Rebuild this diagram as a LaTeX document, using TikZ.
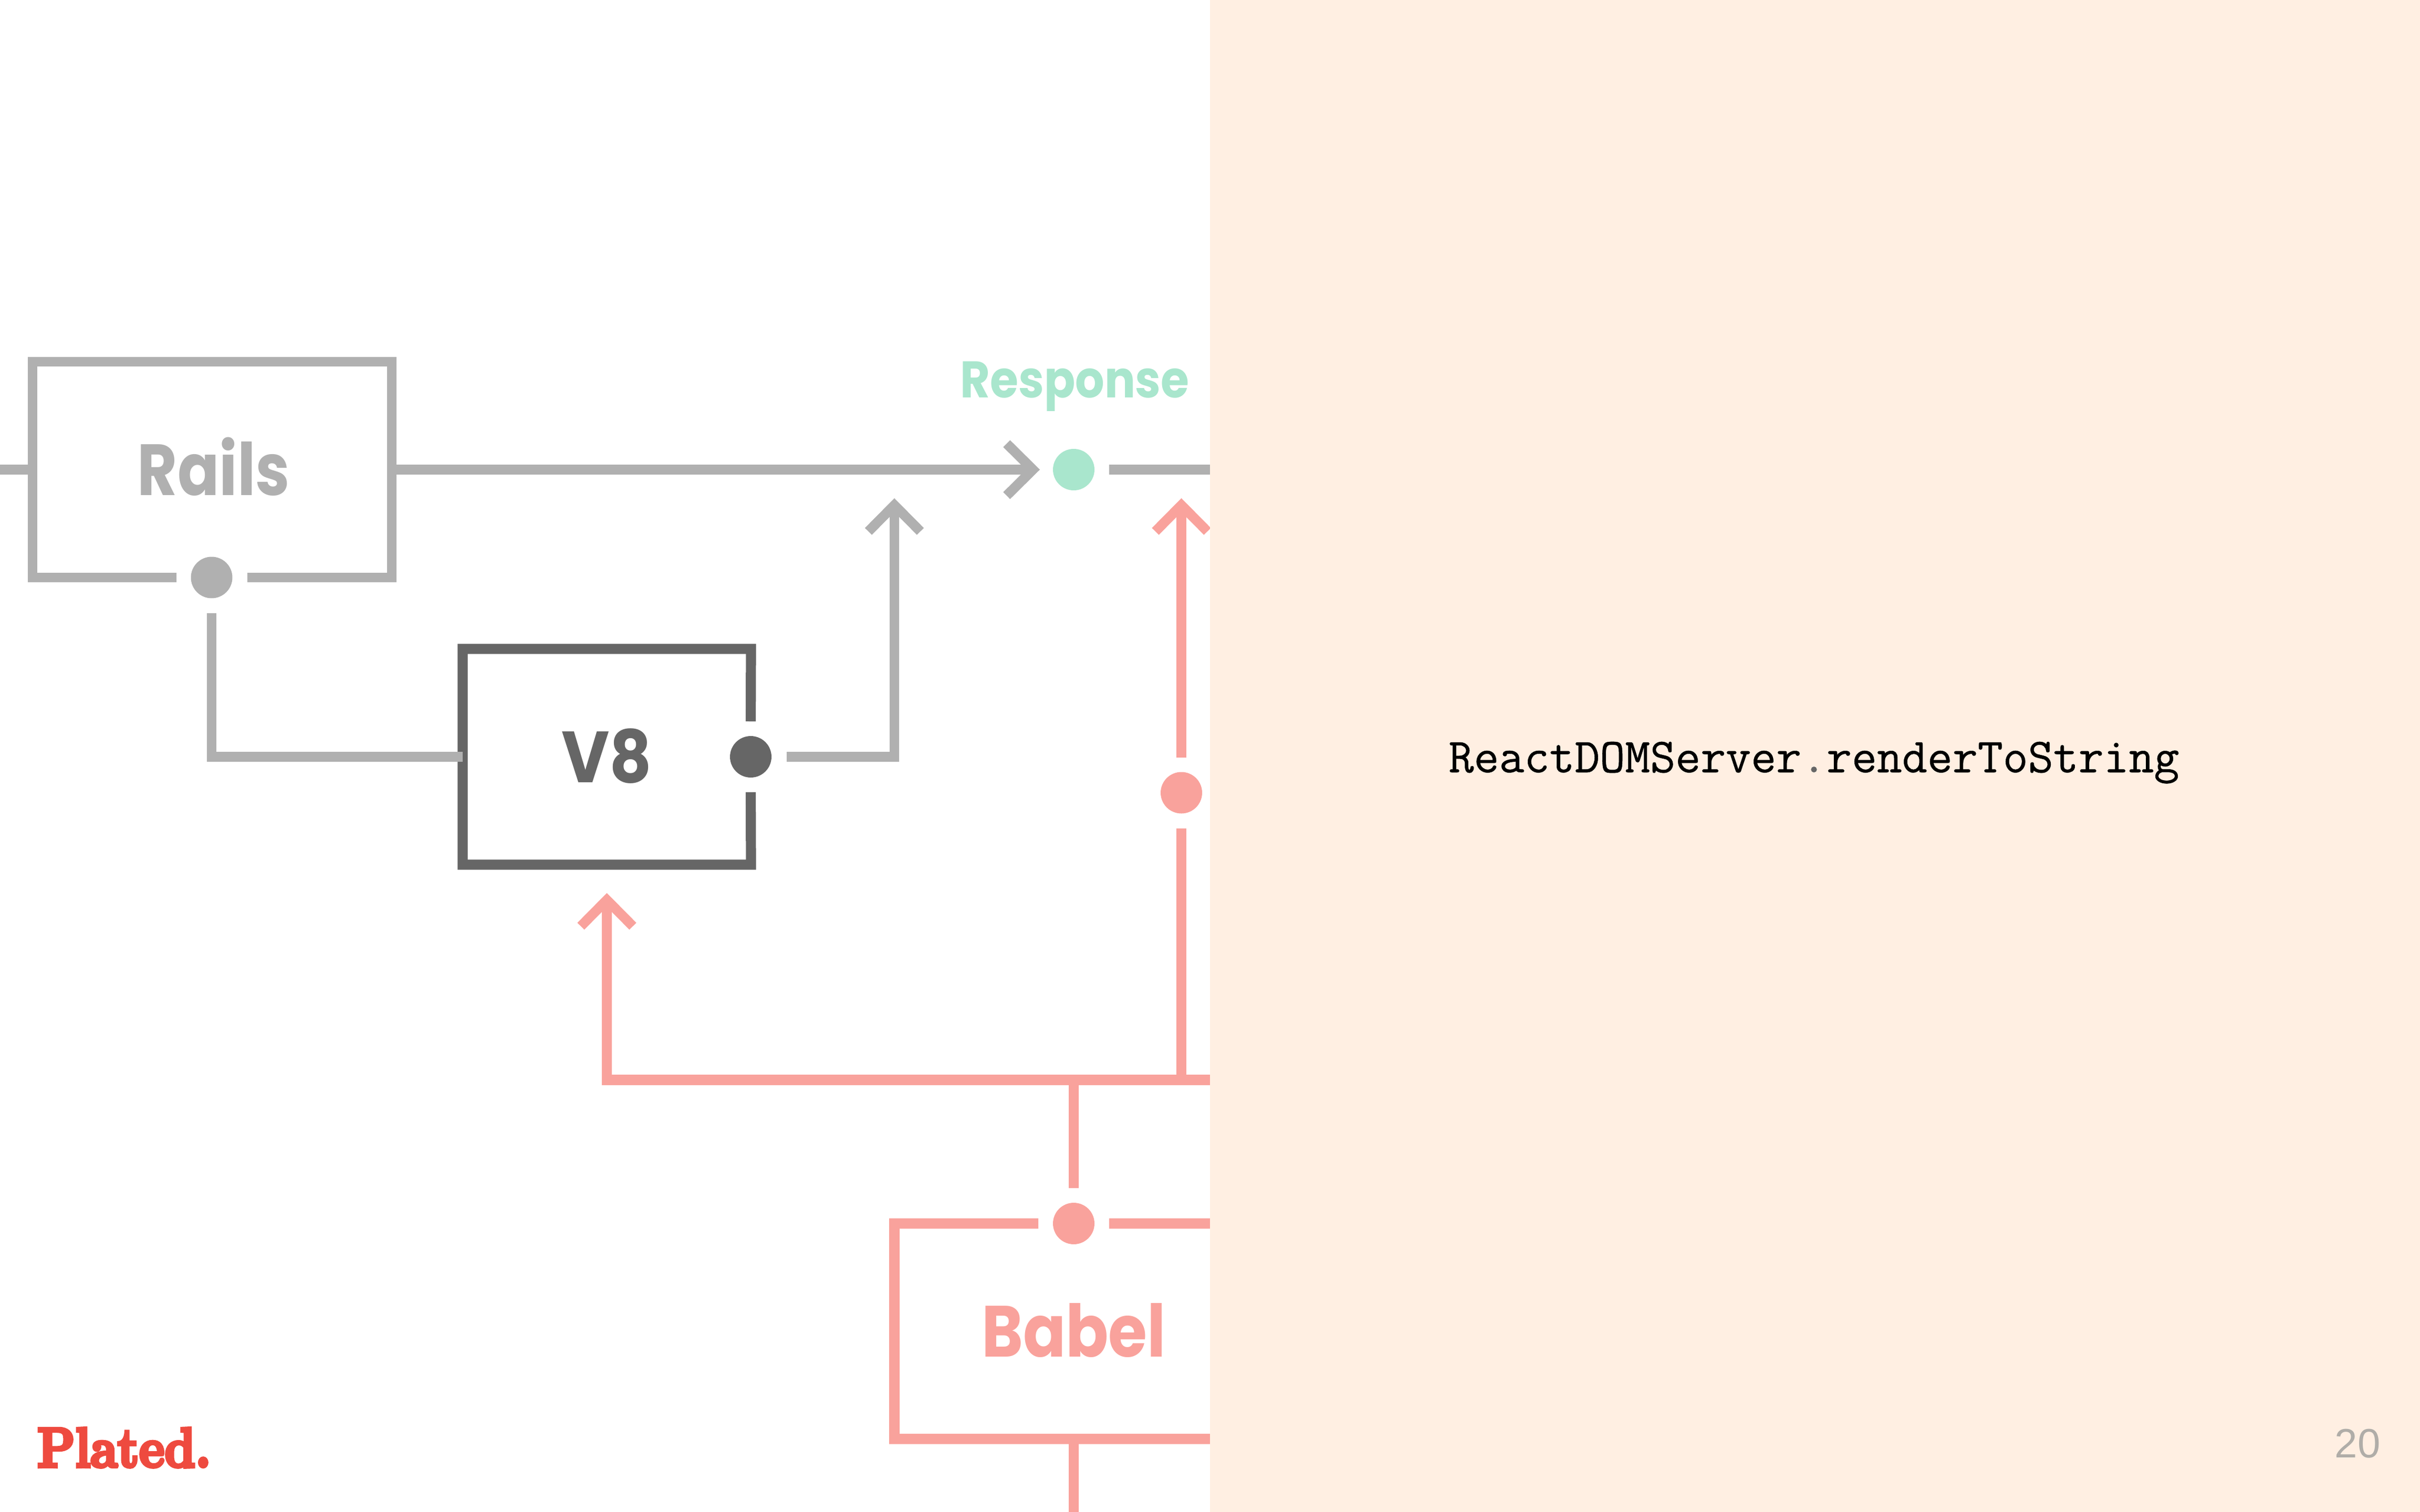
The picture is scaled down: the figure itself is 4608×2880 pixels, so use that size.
\documentclass[tikz,border=0pt]{standalone}
\usepackage{fontspec}
\usepackage{graphicx}
\usetikzlibrary{arrows.meta,calc}
\setmainfont{Poppins}
\newfontfamily\labelfont{Poppins}[UprightFont=* Bold]
\newfontfamily\codefont[FakeBold=0.6]{Latin Modern Mono}
\newfontfamily\logofont[FakeBold=6]{lmroman10-bold.otf}
\newfontfamily\numfont{Liberation Sans}
\newcommand\fitw[2]{\resizebox{#1}{\height}{#2}}
\definecolor{railgrey}{HTML}{B0B0B0}
\definecolor{darkgrey}{HTML}{666666}
\definecolor{pinkline}{HTML}{F9A29C}
\definecolor{mint}{HTML}{A9E6CD}
\definecolor{panelbg}{HTML}{FFEFE2}
\definecolor{platedred}{HTML}{EE4A3F}
\definecolor{numgrey}{HTML}{B0ADA8}
\tikzset{
  x=0.25pt,y=-0.25pt,
  chevron/.style={-{Straight Barb[length=12.5pt,width=24.75pt,line width=4.65pt]}},
  greyline/.style={draw=railgrey,line width=4.65pt,line join=miter},
  darkline/.style={draw=darkgrey,line width=4.8pt,line join=miter},
  pinkline/.style={draw=pinkline,line width=4.9pt,line join=miter},
  boxnode/.style={rectangle,inner sep=0pt,outer sep=0pt,text height=24.3pt,text depth=0pt,font=\labelfont\fontsize{34.5}{36}\selectfont},
  dotnode/.style={circle,inner sep=0pt,outer sep=0pt,minimum size=19.75pt},
}
\begin{document}
\begin{tikzpicture}
\useasboundingbox (0,0) rectangle (4608,2880);
\coordinate (leftedge) at (0,894.5);
\coordinate (respout) at (2320,894.5);
\coordinate (pinkout) at (2320,2057);
\coordinate (bottomedge) at (2044.5,2880);
\coordinate (join) at (2044.5,2057);
\coordinate (pinkbranch) at (2249.5,2057);
\coordinate (greytip) at (1703,949);
\coordinate (pinktip) at (2249.5,949);

\node[boxnode,minimum width=171pt,minimum height=102.75pt,text=railgrey] (rails) at (404,894.5) {\hspace*{1.5pt}\fitw{72.5pt}{Rails}};
\node[boxnode,minimum width=137.25pt,minimum height=102.75pt,text=darkgrey] (v8) at (1155.5,1441.5) {\fitw{43pt}{V8}};
\node[boxnode,minimum width=170.75pt,minimum height=102.6pt,text=pinkline] (babel) at (2044.5,2535.7) {\fitw{87.7pt}{Babel}};
\node[dotnode,fill=railgrey] (railsdot) at (403,1100) {};
\node[dotnode,fill=darkgrey] (v8dot) at (1429.5,1441.5) {};
\node[dotnode,fill=mint] (respdot) at (2044.5,894.5) {};
\node[dotnode,fill=pinkline] (pinkdot) at (2249.5,1510) {};
\node[dotnode,fill=pinkline] (babeldot) at (2044.5,2330.5) {};
\node[anchor=base,inner sep=0pt,text=mint,font=\labelfont\fontsize{24.5}{26}\selectfont] (resplabel) at (2046.5,757) {\fitw{109pt}{Response}};

% box outlines, open where a dot sits
\draw[greyline] ($(railsdot)+(-67,0)$) -- (rails.south west) -- (rails.north west) -- (rails.north east) -- (rails.south east) -- ($(railsdot)+(68,0)$);
\draw[darkline] ($(v8dot)+(0,-67.5)$) -- (v8.north east) -- (v8.north west) -- (v8.south west) -- (v8.south east) -- ($(v8dot)+(0,67.5)$);
\draw[pinkline] ($(babeldot)+(-67.5,0)$) -- (babel.north west) -- (babel.south west) -- (babel.south east) -- (babel.north east) -- ($(babeldot)+(67.5,0)$);

% connectors
\draw[greyline] (leftedge) -- (rails.west);
\draw[greyline,chevron,shorten >=6.25pt] (rails.east) -- (respdot.west);
\draw[greyline] ($(respdot.east)+(28,0)$) -- (respout);
\draw[greyline,shorten <=7pt] (railsdot.south) |- (v8.west);
\draw[greyline,chevron,shorten <=7.25pt] (v8dot.east) -| (greytip);
\draw[pinkline,shorten <=7.1pt] (babeldot.north) -- (join);
\draw[pinkline,chevron,shorten >=13.5pt] (pinkout) -| (v8.south);
\draw[pinkline,shorten <=7pt] (pinkdot.south) -- (pinkbranch);
\draw[pinkline,chevron,shorten <=7pt] (pinkdot.north) -- (pinktip);
\draw[pinkline] (babel.south) -- (bottomedge);

% right panel
\node[fill=panelbg,inner sep=0pt,outer sep=0pt,minimum width=576pt,minimum height=720pt,anchor=north west] (panel) at (2304,0) {};
\node[anchor=base,inner sep=0pt,font=\codefont\fontsize{23.3}{25}\selectfont] (code) at (3454,1471) {\fitw{347.75pt}{ReactDOMServer\textcolor{darkgrey}{.}renderToString}};
\node[anchor=base,inner sep=0pt,text=numgrey,font=\numfont\fontsize{19.5}{22}\selectfont] (pagenum) at (4489,2776) {20};
\node[anchor=base west,inner sep=0pt,text=platedred,font=\logofont\fontsize{26.6}{28}\selectfont] (logo) at (70,2794) {\fitw{82.7pt}{Plated.}};
\end{tikzpicture}
\end{document}
